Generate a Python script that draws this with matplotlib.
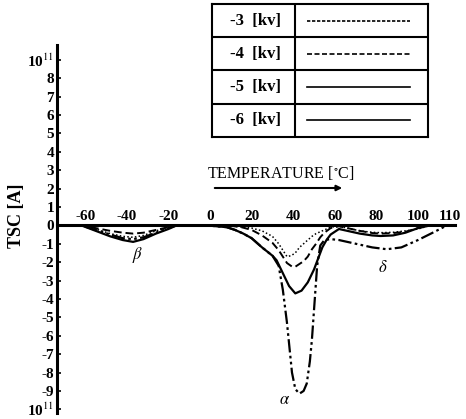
import matplotlib
matplotlib.use("Agg")
import matplotlib.pyplot as plt

plt.rcParams['font.family'] = ['Liberation Serif', 'DejaVu Serif']
plt.rcParams['mathtext.fontset'] = 'stix'

# Данные (температура, ток TSC в единицах 10^11 A)
t_3kv = [-74, -62, -55, -48, -42, -37, -32, -26, -20, -16, 0, 12, 16, 20, 25, 30, 33, 35, 37, 39, 41,
         43, 45, 47, 49, 51, 53, 55, 58, 62, 66, 72, 78, 82, 88, 94, 100, 106, 118]
v_3kv = [0, 0, -0.2, -0.45, -0.6, -0.65, -0.55, -0.3, -0.1, 0, -0.02, -0.05, -0.1, -0.15, -0.3, -0.6,
         -1.0, -1.35, -1.7, -1.65, -1.5, -1.2, -1.0, -0.8, -0.6, -0.45, -0.35, -0.25, -0.1, -0.05, -0.15,
         -0.3, -0.38, -0.4, -0.38, -0.3, -0.2, 0, 0]

t_4kv = [-74, -62, -55, -48, -42, -37, -32, -26, -20, -16, 0, 10, 15, 20, 25, 30, 33, 35, 37, 39.5, 41,
         43, 45, 47, 49, 51, 53, 55, 58, 62, 66, 72, 78, 82, 88, 94, 100, 106, 118]
v_4kv = [0, 0, -0.15, -0.3, -0.4, -0.45, -0.4, -0.25, -0.1, 0, -0.02, -0.03, -0.1, -0.25, -0.55, -0.95,
         -1.35, -1.7, -2.05, -2.25, -2.25, -2.1, -1.95, -1.7, -1.3, -1.0, -0.65, -0.4, -0.15, -0.05, -0.15,
         -0.3, -0.42, -0.45, -0.42, -0.35, -0.15, 0, 0]

t_5kv = [-74, -62, -55, -48, -42, -37, -32, -26, -20, -16, 0, 8, 12, 16, 20, 25, 30, 32, 35, 38, 41,
         44, 47, 50, 52, 54, 56, 58, 62, 66, 72, 78, 82, 88, 94, 100, 106, 118]
v_5kv = [0, 0, -0.3, -0.6, -0.8, -0.9, -0.75, -0.45, -0.2, 0, -0.02, -0.1, -0.25, -0.45, -0.7, -1.2,
         -1.65, -1.9, -2.6, -3.3, -3.7, -3.55, -3.1, -2.4, -1.8, -1.2, -0.8, -0.5, -0.2, -0.3, -0.45,
         -0.55, -0.58, -0.55, -0.4, -0.15, 0, 0]

t_6kv = [-74, -62, -55, -48, -42, -37, -32, -26, -20, -16, 0, 8, 12, 16, 20, 25, 30, 33, 35, 37, 39.4,
         41, 43, 45, 46.5, 48, 49, 50.5, 51.5, 53, 55, 58, 62, 70, 78, 85, 92, 100, 108, 114, 118]
v_6kv = [0, 0, -0.25, -0.5, -0.7, -0.75, -0.65, -0.4, -0.15, 0, -0.02, -0.1, -0.25, -0.45, -0.7, -1.2,
         -1.65, -2.2, -3.5, -5.3, -8.0, -8.9, -9.15, -9.0, -8.6, -7.4, -6.2, -3.8, -2.2, -1.1, -0.8,
         -0.75, -0.8, -1.0, -1.2, -1.3, -1.2, -0.8, -0.35, 0, 0]

x_ticks = [-60, -40, -20, 0, 20, 40, 60, 80, 100, 110]
y_ticks = list(range(-10, 10))
y_labels = ['10$^{11}$' if v in (9, -10) else str(v) for v in y_ticks]

legend_labels = ['-3  [kv]', '-4  [kv]', '-5  [kv]', '-6  [kv]']

fig = plt.figure(figsize=(4.66, 4.19), dpi=100)
ax = fig.add_axes([57 / 466, 6 / 419, 398 / 466, 368 / 419])

ax.plot(t_3kv, v_3kv, color='black', lw=1.1, linestyle=(0, (1, 1.5)))
ax.plot(t_4kv, v_4kv, color='black', lw=1.4, linestyle=(0, (4, 2)))
ax.plot(t_5kv, v_5kv, color='black', lw=1.6, linestyle='-')
ax.plot(t_6kv, v_6kv, color='black', lw=1.6, linestyle=(0, (6, 1.5, 1.2, 1.5, 1.2, 1.5)))

ax.set_xlim(-73.6, 117.8)
ax.set_ylim(-10.2, 9.8)

# ось X проходит через ноль, подписи над ней
ax.spines['right'].set_visible(False)
ax.spines['bottom'].set_visible(False)
ax.spines['top'].set_position(('data', 0))
ax.spines['top'].set_linewidth(2.2)
ax.spines['left'].set_linewidth(2.2)
ax.xaxis.tick_top()
ax.set_xticks(x_ticks)
ax.set_xticklabels([str(v) for v in x_ticks])
ax.tick_params(axis='x', length=0, pad=2, labelsize=11)
ax.set_yticks(y_ticks)
ax.set_yticklabels(y_labels)
ax.tick_params(axis='y', direction='in', length=3, width=1.2, pad=2, labelsize=11)
for lbl in ax.get_xticklabels() + ax.get_yticklabels():
    lbl.set_fontweight('bold')
ax.get_xticklabels()[-1].set_horizontalalignment('left')

fig.text(17 / 466, 1 - 216 / 419, 'TSC [A]', rotation=90, ha='center', va='center',
         fontsize=13, fontweight='bold')

ax.text(-34.6, -1.6, r'$\beta$', ha='center', va='center', fontsize=12)
ax.text(36, -9.5, r'$\alpha$', ha='center', va='center', fontsize=12)
ax.text(83.2, -2.3, r'$\delta$', ha='center', va='center', fontsize=12)

# подпись температуры со стрелкой
fig.text(281 / 466, 1 - 173 / 419, 'TEMPERATURE [$^{\\circ}$C]', ha='center', va='center', fontsize=11.5)
fig.add_artist(matplotlib.patches.FancyArrowPatch(
    (212 / 466, 1 - 188 / 419), (345 / 466, 1 - 188 / 419), transform=fig.transFigure,
    arrowstyle='-|>', mutation_scale=8, lw=1.5, color='black'))

# таблица-легенда
lg = fig.add_axes([212 / 466, 1 - 137 / 419, 216 / 466, 133 / 419])
lg.set_xlim(0, 1)
lg.set_ylim(0, 4)
lg.set_xticks([])
lg.set_yticks([])
for s in lg.spines.values():
    s.set_linewidth(1.5)
lg.axvline(0.384, color='black', lw=1.5)
for i in range(1, 4):
    lg.axhline(i, color='black', lw=1.5)
styles = [(0, (2, 1)), (0, (3, 1.5)), '-', '-']
for i, (label, st) in enumerate(zip(legend_labels, styles)):
    yy = 3.5 - i
    lg.text(0.2, yy, label, ha='center', va='center', fontsize=12, fontweight='bold')
    lg.plot([0.44, 0.917], [yy, yy], color='black', lw=1.2, linestyle=st)

fig.savefig('out.png', dpi=100)
